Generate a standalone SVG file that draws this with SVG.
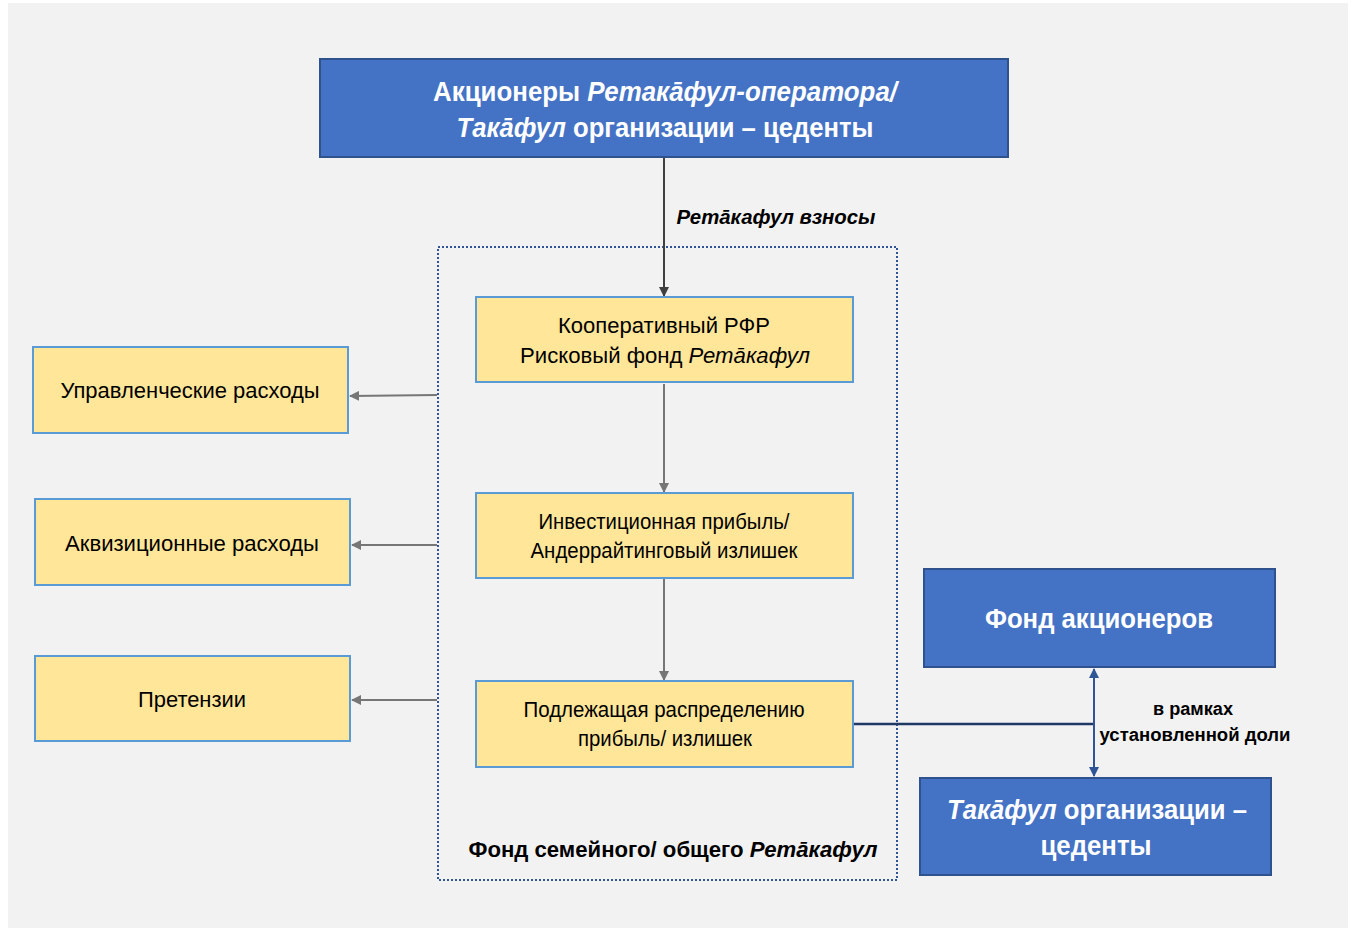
<svg xmlns="http://www.w3.org/2000/svg" width="1355" height="930" viewBox="0 0 1355 930">
<defs>
<style>
.t{font-family:"Liberation Sans",Arial,sans-serif;text-anchor:middle}
.blue{fill:#4472c4;stroke:#2f528f;stroke-width:2}
.yel{fill:#ffe699;stroke:#5b9bd5;stroke-width:2}
.wb{fill:#ffffff;font-weight:bold;font-size:28px}
.bk{fill:#000000;font-size:22px}
.gl{stroke:#767676;stroke-width:2;fill:none}
</style>
<marker id="ag" viewBox="0 0 10 10" refX="9" refY="5" markerWidth="5" markerHeight="5" orient="auto-start-reverse" markerUnits="strokeWidth"><path d="M0,0 L10,5 L0,10 z" fill="#767676"/></marker>
<marker id="ad" viewBox="0 0 10 10" refX="9" refY="5" markerWidth="5" markerHeight="5" orient="auto-start-reverse" markerUnits="strokeWidth"><path d="M0,0 L10,5 L0,10 z" fill="#404040"/></marker>
<marker id="ab" viewBox="0 0 10 10" refX="9" refY="5" markerWidth="5" markerHeight="5" orient="auto-start-reverse" markerUnits="strokeWidth"><path d="M0,0 L10,5 L0,10 z" fill="#2f5597"/></marker>
</defs>
<rect x="0" y="0" width="1355" height="930" fill="#ffffff"/>
<rect x="8" y="3" width="1340" height="925" fill="#f2f2f2"/>

<g id="container">
<rect x="438" y="247" width="459" height="633" fill="none" stroke="#2f5597" stroke-width="2" stroke-dasharray="2 2"/>
<text class="t" x="673" y="857" style="font-weight:bold;font-size:22px" fill="#000" textLength="409" lengthAdjust="spacingAndGlyphs">Фонд семейного/ общего <tspan font-style="italic">Ретāкафул</tspan></text>
</g>

<g id="connectors">
<line x1="664" y1="157" x2="664" y2="296" stroke="#404040" stroke-width="2" marker-end="url(#ad)"/>
<text class="t" x="776" y="224" style="font-weight:bold;font-style:italic;font-size:20px" fill="#000" textLength="199" lengthAdjust="spacingAndGlyphs">Ретāкафул взносы</text>
<line class="gl" x1="664" y1="384" x2="664" y2="492" marker-end="url(#ag)"/>
<line class="gl" x1="664" y1="579" x2="664" y2="680" marker-end="url(#ag)"/>
<line class="gl" x1="437" y1="395" x2="350" y2="396" marker-end="url(#ag)"/>
<line class="gl" x1="437" y1="545" x2="352" y2="545" marker-end="url(#ag)"/>
<line class="gl" x1="437" y1="700" x2="352" y2="700" marker-end="url(#ag)"/>
<line x1="853" y1="724" x2="1094" y2="724" stroke="#203864" stroke-width="2.5"/>
<line x1="1094" y1="669" x2="1094" y2="776" stroke="#2f5597" stroke-width="2" marker-start="url(#ab)" marker-end="url(#ab)"/>
<text class="t" x="1193" y="715" style="font-weight:bold;font-size:18px" fill="#000" textLength="80" lengthAdjust="spacingAndGlyphs">в рамках</text>
<text class="t" x="1195" y="741" style="font-weight:bold;font-size:18px" fill="#000" textLength="191" lengthAdjust="spacingAndGlyphs">установленной доли</text>
</g>

<g id="top">
<rect class="blue" x="320" y="59" width="688" height="98"/>
<text class="t wb" x="665" y="101" textLength="464" lengthAdjust="spacingAndGlyphs">Акционеры <tspan font-style="italic">Ретакāфул-оператора/</tspan></text>
<text class="t wb" x="665" y="137" textLength="417" lengthAdjust="spacingAndGlyphs"><tspan font-style="italic">Такāфул</tspan> организации – цеденты</text>
</g>

<g id="risk">
<rect class="yel" x="476" y="297" width="377" height="85"/>
<text class="t bk" x="664" y="333" textLength="212" lengthAdjust="spacingAndGlyphs">Кооперативный РФР</text>
<text class="t bk" x="665" y="363" textLength="290" lengthAdjust="spacingAndGlyphs">Рисковый фонд <tspan font-style="italic">Ретāкафул</tspan></text>
</g>

<g id="invest">
<rect class="yel" x="476" y="493" width="377" height="85"/>
<text class="t bk" x="664" y="529" textLength="251" lengthAdjust="spacingAndGlyphs">Инвестиционная прибыль/</text>
<text class="t bk" x="664" y="558" textLength="267" lengthAdjust="spacingAndGlyphs">Андеррайтинговый излишек</text>
</g>

<g id="distrib">
<rect class="yel" x="476" y="681" width="377" height="86"/>
<text class="t bk" x="664" y="717" textLength="281" lengthAdjust="spacingAndGlyphs">Подлежащая распределению</text>
<text class="t bk" x="665" y="746" textLength="174" lengthAdjust="spacingAndGlyphs">прибыль/ излишек</text>
</g>

<g id="mgmt">
<rect class="yel" x="33" y="347" width="315" height="86"/>
<text class="t bk" x="190" y="398" textLength="259" lengthAdjust="spacingAndGlyphs">Управленческие расходы</text>
</g>

<g id="acq">
<rect class="yel" x="35" y="499" width="315" height="86"/>
<text class="t bk" x="192" y="551" textLength="254" lengthAdjust="spacingAndGlyphs">Аквизиционные расходы</text>
</g>

<g id="claims">
<rect class="yel" x="35" y="656" width="315" height="85"/>
<text class="t bk" x="192" y="707" textLength="108" lengthAdjust="spacingAndGlyphs">Претензии</text>
</g>

<g id="shfund">
<rect class="blue" x="924" y="569" width="351" height="98"/>
<text class="t wb" x="1099" y="628" textLength="228" lengthAdjust="spacingAndGlyphs">Фонд акционеров</text>
</g>

<g id="cedents">
<rect class="blue" x="920" y="778" width="351" height="97"/>
<text class="t wb" x="1097" y="819" textLength="300" lengthAdjust="spacingAndGlyphs"><tspan font-style="italic">Такāфул</tspan> организации –</text>
<text class="t wb" x="1096" y="855" textLength="111" lengthAdjust="spacingAndGlyphs">цеденты</text>
</g>
</svg>
